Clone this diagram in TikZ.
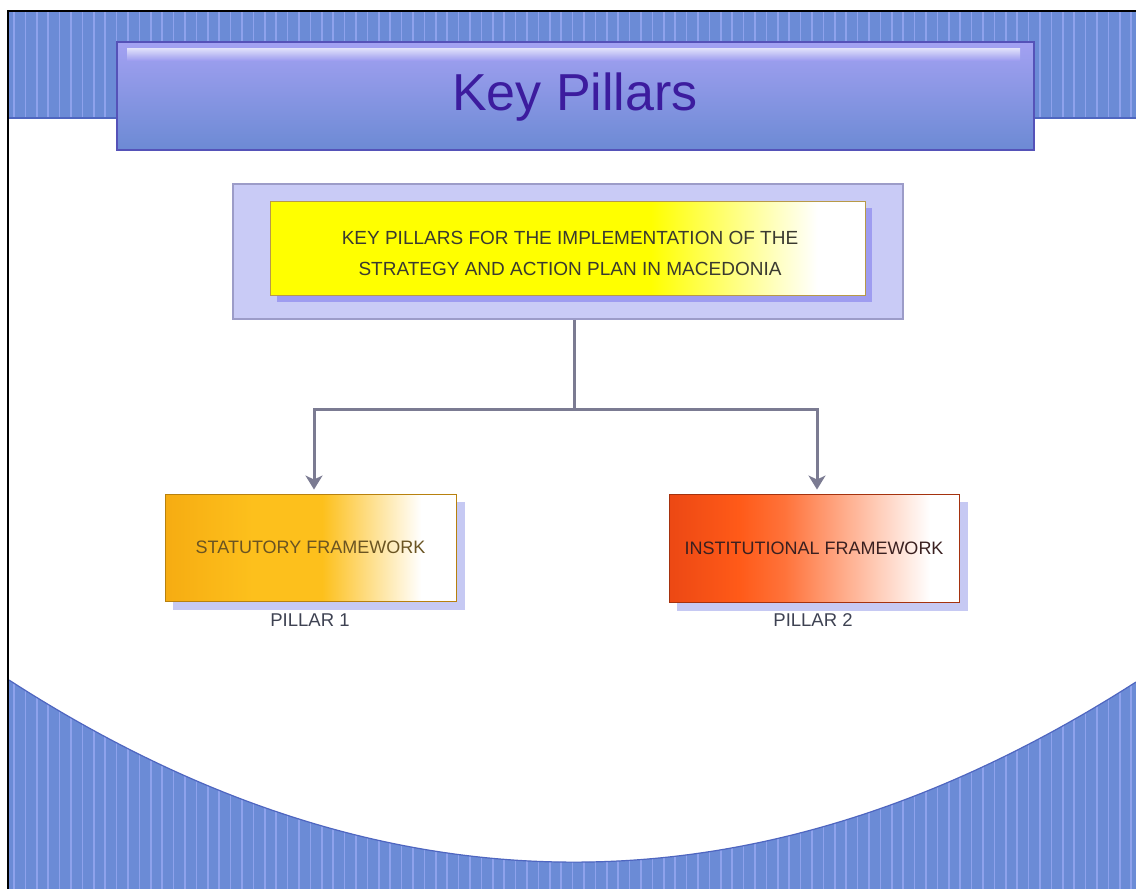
\documentclass[tikz,border=0pt]{standalone}
\usepackage{fontspec}
\setmainfont{Liberation Sans}
\usetikzlibrary{arrows.meta,calc}
\definecolor{bandblue}{HTML}{6B8BD6}
\definecolor{stripe}{HTML}{8EA2EC}
\definecolor{banddark}{HTML}{4F66C0}
\definecolor{titletop}{HTML}{A3A1F2}
\definecolor{titlebot}{HTML}{6C8AD4}
\definecolor{titleborder}{HTML}{5552B8}
\definecolor{titletext}{HTML}{3C1C9E}
\definecolor{framefill}{HTML}{C9CBF6}
\definecolor{frameborder}{HTML}{9C9CC8}
\definecolor{yshadow}{HTML}{9E9CF0}
\definecolor{pshadow}{HTML}{C6C9F3}
\definecolor{connc}{HTML}{7B7B92}
\definecolor{ytext}{HTML}{3A3A30}
\definecolor{stext}{HTML}{6A5422}
\definecolor{itext}{HTML}{3A2020}
\definecolor{ptext}{HTML}{3E4252}
\definecolor{oA}{HTML}{F6AC12}
\definecolor{oB}{HTML}{FDC01C}
\definecolor{rA}{HTML}{EC4814}
\definecolor{rB}{HTML}{FF5A18}
\definecolor{yborder}{HTML}{B89A48}
\pgfdeclarehorizontalshading{yelshade}{100bp}{color(0bp)=(yellow); color(25bp)=(yellow); color(57bp)=(yellow); color(71bp)=(white); color(100bp)=(white)}
\pgfdeclarehorizontalshading{orshade}{100bp}{color(0bp)=(oA); color(25bp)=(oA); color(40bp)=(oB); color(52bp)=(oB); color(69bp)=(white); color(100bp)=(white)}
\pgfdeclarehorizontalshading{redshade}{100bp}{color(0bp)=(rA); color(25bp)=(rA); color(37bp)=(rB); color(45bp)=(rB!85!white); color(70bp)=(white); color(100bp)=(white)}
\tikzset{
  conn/.style={draw=connc, line width=3pt},
  boxtext/.style={font=\fontsize{18}{31}\selectfont, align=center},
  plabel/.style={font=\fontsize{18.5}{22}\selectfont, text=ptext},
}
\begin{document}
\begin{tikzpicture}[x=1pt,y=-1pt]
\useasboundingbox (0,0) rectangle (1136,889);
\fill[white] (0,0) rectangle (1136,889);
% top band
\begin{scope}
\clip (9,12) rectangle (1136,118);
\fill[bandblue] (9,12) rectangle (1136,118);
\foreach \i in {0,...,100} {\draw[stripe, line width=1.6pt] ({14+\i*11.4},12) -- ({14+\i*11.4},118);}
\end{scope}
\draw[banddark, line width=1.2pt] (9,118) -- (1136,118);
% bottom band
\begin{scope}
\clip (9,680) .. controls (384,922) and (760,923) .. (1136,682) -- (1136,889) -- (9,889) -- cycle;
\fill[bandblue] (9,600) rectangle (1136,889);
\foreach \i in {0,...,100} {\draw[stripe, line width=1.6pt] ({14+\i*11.4},600) -- ({14+\i*11.4},889);}
\end{scope}
\draw[banddark, line width=1.2pt] (9,680) .. controls (384,922) and (760,923) .. (1136,682);
% frame lines
\draw[black, line width=2.2pt] (8,889) -- (8,11) -- (1136,11);
% title box
\node[draw=titleborder, line width=1.2pt, top color=titletop, bottom color=titlebot, minimum width=917pt, minimum height=108pt, inner sep=0pt] (title) at (575.5,96) {};
\shade[top color=white, bottom color=titletop, opacity=0.7] (127,48) rectangle (1020,60);
\node[text=titletext, font=\fontsize{52}{60}\selectfont] (titletxt) at (575,97) {Key Pillars};
% outer frame
\node[draw=frameborder, fill=framefill, line width=1.5pt, minimum width=670pt, minimum height=135pt, inner sep=0pt] (frame) at (568,251.5) {};
\fill[yshadow] (277,208) rectangle (872,302);
\node[draw=yborder, line width=1pt, shading=yelshade, minimum width=595pt, minimum height=94pt, inner sep=0pt] (main) at (567.5,248) {};
\node[boxtext, text=ytext, font=\fontsize{19}{31}\selectfont] (maintxt) at (570,253) {KEY PILLARS FOR THE IMPLEMENTATION OF THE\\STRATEGY AND ACTION PLAN IN MACEDONIA};
% pillars
\fill[pshadow] (173,502) rectangle (465,610);
\node[draw=oA!75!black, line width=0.9pt, shading=orshade, minimum width=291pt, minimum height=107pt, inner sep=0pt, boxtext, text=stext] (p1) at (310.5,547.5) {STATUTORY FRAMEWORK};
\fill[pshadow] (677,502) rectangle (968,611);
\node[draw=rA!70!black, line width=0.9pt, shading=redshade, minimum width=290pt, minimum height=108pt, inner sep=0pt, boxtext, text=itext] (p2) at (814,548) {INSTITUTIONAL FRAMEWORK};
\node[plabel] (l1) at (310,620) {PILLAR 1};
\node[plabel] (l2) at (813,620) {PILLAR 2};
% connectors
\coordinate (hub) at (574,409);
\draw[conn] (frame.south -| hub) -- (hub);
\draw[conn, -{Stealth[length=14pt,width=17pt,inset=4pt]}, shorten >=4pt] (hub) -| (p1.north -| 314,0);
\draw[conn, -{Stealth[length=14pt,width=17pt,inset=4pt]}, shorten >=4pt] (hub) -| (p2.north -| 817,0);
\end{tikzpicture}
\end{document}
